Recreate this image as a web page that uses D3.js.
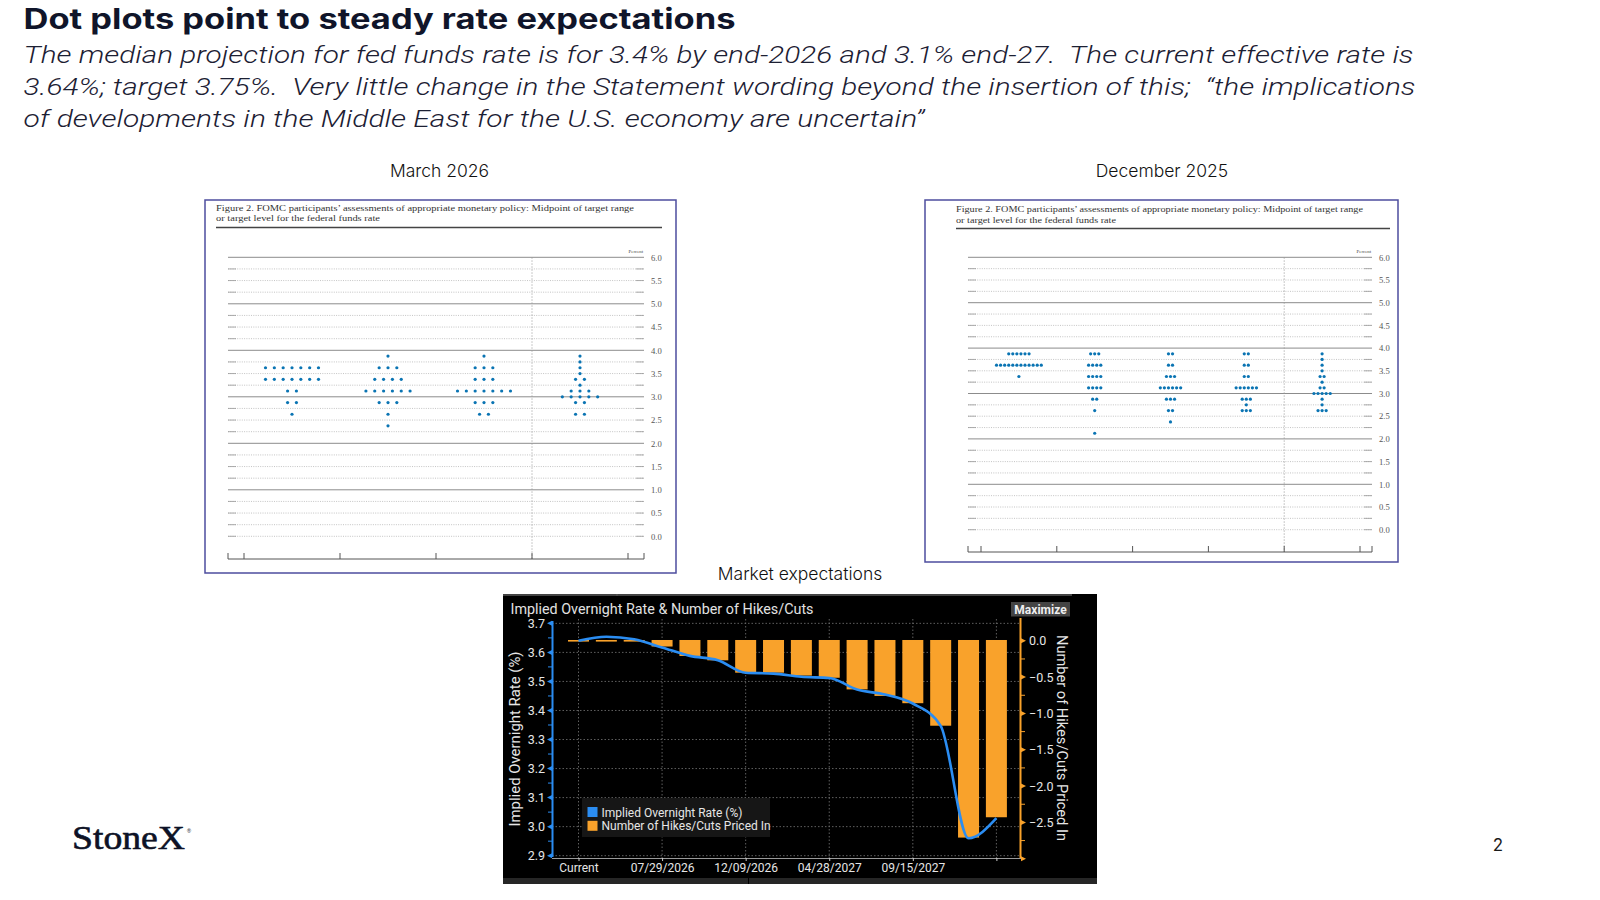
<!DOCTYPE html>
<html>
<head>
<meta charset="utf-8">
<script src="https://cdn.jsdelivr.net/npm/d3@7"></script>
<style>
  body { margin: 0; background: #fff; }
</style>
</head>
<body>
<div id="slide"></div>
<script>
// ---- slide text
var slideTitle = "Dot plots point to steady rate expectations";
var slideSubtitle = [
  "The median projection for fed funds rate is for 3.4% by end-2026 and 3.1% end-27.  The current effective rate is",
  "3.64%; target 3.75%.  Very little change in the Statement wording beyond the insertion of this;  \u201cthe implications",
  "of developments in the Middle East for the U.S. economy are uncertain\u201d"
];
var figTitle = [
  "Figure 2.  FOMC participants\u2019 assessments of appropriate monetary policy: Midpoint of target range",
  "or target level for the federal funds rate"
];

// ---- dot plots: [midpoint, number of participants]
var percentTicks = [0, 0.5, 1, 1.5, 2, 2.5, 3, 3.5, 4, 4.5, 5, 5.5, 6];
var marchColumns = ["2026", "2027", "2028", "Longer run"];
var marchDots = [
  [[3.625, 7], [3.375, 7], [3.125, 2], [2.875, 2], [2.625, 1]],
  [[3.875, 1], [3.625, 3], [3.375, 4], [3.125, 6], [2.875, 3], [2.625, 1], [2.375, 1]],
  [[3.875, 1], [3.625, 3], [3.375, 3], [3.125, 7], [2.875, 3], [2.625, 2]],
  [[3.875, 1], [3.75, 1], [3.625, 1], [3.5, 1], [3.375, 2], [3.25, 1], [3.125, 3], [3.0, 5], [2.875, 2], [2.625, 2]]
];
var decColumns = ["2025", "2026", "2027", "2028", "Longer run"];
var decDots = [
  [[3.875, 6], [3.625, 12], [3.375, 1]],
  [[3.875, 3], [3.625, 4], [3.375, 4], [3.125, 4], [2.875, 2], [2.625, 1], [2.125, 1]],
  [[3.875, 2], [3.625, 2], [3.375, 3], [3.125, 6], [2.875, 3], [2.625, 2], [2.375, 1]],
  [[3.875, 2], [3.625, 2], [3.375, 2], [3.125, 6], [2.875, 3], [2.75, 1], [2.625, 3]],
  [[3.875, 1], [3.75, 1], [3.625, 1], [3.5, 1], [3.375, 2], [3.25, 1], [3.125, 2], [3.0, 5], [2.875, 1], [2.75, 1], [2.625, 3]]
];

// ---- market expectations
var meetingDates = ["Current", "04/29/2026", "06/17/2026", "07/29/2026", "09/16/2026", "10/28/2026",
  "12/09/2026", "01/27/2027", "03/17/2027", "04/28/2027", "06/09/2027", "07/28/2027",
  "09/15/2027", "10/27/2027", "12/08/2027", "01/26/2028"];
var impliedRate = [3.640, 3.654, 3.645, 3.617, 3.588, 3.573, 3.530, 3.527, 3.516, 3.512, 3.472, 3.455, 3.424, 3.347, 2.960, 3.029];
var hikesCuts = [0.00, 0.00, 0.00, -0.09, -0.22, -0.28, -0.45, -0.45, -0.49, -0.52, -0.68, -0.77, -0.87, -1.18, -2.72, -2.44];
var dateTicks = ["Current", "07/29/2026", "12/09/2026", "04/28/2027", "09/15/2027", "01/26/2028"];
var rateTicks = [2.9, 3.0, 3.1, 3.2, 3.3, 3.4, 3.5, 3.6, 3.7];
var hikeTicks = [0, -0.5, -1.0, -1.5, -2.0, -2.5, -3.0];

var svg = d3.select("#slide")
  .append("svg")
  .attr("width", 1600)
  .attr("height", 900);

// ---- header
svg.append("text")
  .attr("x", 23.5).attr("y", 29)
  .attr("font-family", "Inter, sans-serif")
  .attr("font-weight", 700)
  .attr("font-size", 28)
  .attr("fill", "#10152a")
  .attr("textLength", 712).attr("lengthAdjust", "spacingAndGlyphs")
  .text(slideTitle);

var subWidths = [1390, 1392, 901];
slideSubtitle.forEach(function(line, i) {
  svg.append("text")
    .attr("x", 23.5).attr("y", 62.5 + i * 32)
    .attr("font-family", "Roboto, sans-serif")
    .attr("font-weight", 300)
    .attr("font-style", "italic")
    .attr("font-size", 24.5)
    .attr("fill", "#1c2033")
    .style("white-space", "pre")
    .attr("textLength", subWidths[i]).attr("lengthAdjust", "spacingAndGlyphs")
    .text(line);
});

function caption(x, y, txt) {
  svg.append("text")
    .attr("x", x).attr("y", y)
    .attr("text-anchor", "middle")
    .attr("font-family", "Inter, sans-serif")
    .attr("font-weight", 300)
    .attr("font-size", 17.5)
    .attr("fill", "#111")
    .text(txt);
}
caption(439.5, 176.5, "March 2026");
caption(1162, 176.5, "December 2025");
caption(800, 579.5, "Market expectations");

// ---- FOMC dot plot
function drawDotPlot(cfg) {
  var g = svg.append("g");
  g.append("rect")
    .attr("x", cfg.frame[0]).attr("y", cfg.frame[1])
    .attr("width", cfg.frame[2] - cfg.frame[0])
    .attr("height", cfg.frame[3] - cfg.frame[1])
    .attr("fill", "#fff")
    .attr("stroke", "#4d4d9e")
    .attr("stroke-width", 1.5);

  figTitle.forEach(function(line, i) {
    g.append("text")
      .attr("x", cfg.titleX).attr("y", cfg.titleY + i * 10.5)
      .attr("font-family", "Liberation Serif, serif")
      .attr("font-size", 8.8)
      .attr("fill", "#333")
      .attr("textLength", cfg.titleW[i]).attr("lengthAdjust", "spacingAndGlyphs")
      .text(line);
  });
  g.append("line")
    .attr("x1", cfg.titleX).attr("x2", cfg.ruleX)
    .attr("y1", cfg.ruleY).attr("y2", cfg.ruleY)
    .attr("stroke", "#444").attr("stroke-width", 1.6);

  var y = d3.scaleLinear().domain([0, 6]).range([cfg.gridBottom, cfg.gridTop]);
  var x = d3.scaleBand().domain(cfg.columns).range([cfg.colX0, cfg.colX1]);

  var levels = d3.range(0, 25).map(function(i) { return i / 4; });
  levels.forEach(function(v) {
    if (v > 0 && v % 1 === 0) {
      g.append("line")
        .attr("x1", cfg.gridX0).attr("x2", cfg.gridX1)
        .attr("y1", y(v)).attr("y2", y(v))
        .attr("stroke", "#8c8c8c").attr("stroke-width", 1);
    } else {
      g.append("line")
        .attr("x1", cfg.gridX0).attr("x2", cfg.gridX1)
        .attr("y1", y(v)).attr("y2", y(v))
        .attr("stroke", "#aaa").attr("stroke-width", 0.7)
        .attr("stroke-dasharray", "1,1.3");
      [[cfg.gridX0, cfg.gridX0 + 8], [cfg.gridX1 - 8, cfg.gridX1]].forEach(function(e) {
        g.append("line")
          .attr("x1", e[0]).attr("x2", e[1])
          .attr("y1", y(v)).attr("y2", y(v))
          .attr("stroke", "#999").attr("stroke-width", 0.8);
      });
    }
  });

  g.append("line")
    .attr("x1", cfg.dashX).attr("x2", cfg.dashX)
    .attr("y1", cfg.gridTop).attr("y2", cfg.axisY)
    .attr("stroke", "#999").attr("stroke-width", 0.7)
    .attr("stroke-dasharray", "1.5,1.5");

  var ax = g.append("g")
    .attr("transform", "translate(" + cfg.labelX + ",0)")
    .call(d3.axisRight(y).tickValues(percentTicks).tickSize(0).tickPadding(0).tickFormat(d3.format(".1f")));
  ax.select(".domain").remove();
  ax.selectAll("text")
    .attr("font-family", "Liberation Serif, serif")
    .attr("font-size", 8.6)
    .attr("fill", "#555");

  g.append("text")
    .attr("x", cfg.percentX).attr("y", cfg.gridTop - 4)
    .attr("text-anchor", "end")
    .attr("font-family", "Liberation Serif, serif")
    .attr("font-size", 4.8)
    .attr("fill", "#444")
    .text("Percent");

  // bottom axis with ticks on column boundaries
  g.append("line")
    .attr("x1", cfg.gridX0).attr("x2", cfg.gridX1)
    .attr("y1", cfg.axisY).attr("y2", cfg.axisY)
    .attr("stroke", "#555").attr("stroke-width", 1);
  var tickX = [cfg.gridX0, cfg.gridX1].concat(cfg.columns.map(function(c) { return x(c); }), [cfg.colX1]);
  g.selectAll(".btick")
    .data(tickX)
    .join("line")
    .attr("x1", function(d) { return d; }).attr("x2", function(d) { return d; })
    .attr("y1", cfg.axisY - 6).attr("y2", cfg.axisY)
    .attr("stroke", "#555").attr("stroke-width", 1);

  var flat = [];
  cfg.dots.forEach(function(col, ci) {
    col.forEach(function(row) {
      for (var i = 0; i < row[1]; i++) {
        flat.push({ col: cfg.columns[ci], v: row[0], i: i, n: row[1] });
      }
    });
  });
  g.selectAll("circle.dot")
    .data(flat)
    .join("circle")
    .attr("class", "dot")
    .attr("cx", function(d) { return x(d.col) + x.bandwidth() / 2 + (d.i - (d.n - 1) / 2) * cfg.spacing; })
    .attr("cy", function(d) { return y(d.v); })
    .attr("r", cfg.r)
    .attr("fill", "#0a74b3");
}

drawDotPlot({
  frame: [205, 200, 676, 573],
  titleX: 216, titleY: 210.5, titleW: [418, 164],
  ruleX: 662, ruleY: 227.5,
  gridX0: 228, gridX1: 644, gridTop: 257.3, gridBottom: 536.3,
  colX0: 244, colX1: 628, dashX: 532, axisY: 559,
  labelX: 651, percentX: 643,
  columns: marchColumns, dots: marchDots,
  r: 1.6, spacing: 8.83
});

drawDotPlot({
  frame: [925, 200, 1398, 562],
  titleX: 956, titleY: 212, titleW: [407, 160],
  ruleX: 1390, ruleY: 228.5,
  gridX0: 968, gridX1: 1372, gridTop: 257.3, gridBottom: 529.7,
  colX0: 981, colX1: 1360, dashX: 1284.2, axisY: 552,
  labelX: 1379, percentX: 1371,
  columns: decColumns, dots: decDots,
  r: 1.6, spacing: 4.07
});

// ---- Bloomberg style market chart
var bb = svg.append("g");
var blue = "#2b8df2", orange = "#f9a22b", axisFont = "Roboto, sans-serif";

bb.append("rect").attr("x", 503).attr("y", 594).attr("width", 594).attr("height", 290).attr("fill", "#000");
bb.append("line").attr("x1", 503).attr("x2", 1072).attr("y1", 595).attr("y2", 595).attr("stroke", "#5a5a5a").attr("stroke-width", 1.5);
bb.append("line").attr("x1", 617).attr("x2", 617).attr("y1", 594).attr("y2", 596).attr("stroke", "#5a5a5a");
bb.append("rect").attr("x", 503).attr("y", 878).attr("width", 594).attr("height", 6).attr("fill", "#262626");
bb.append("line").attr("x1", 748.5).attr("x2", 748.5).attr("y1", 878).attr("y2", 884).attr("stroke", "#000");

bb.append("text")
  .attr("x", 510.5).attr("y", 614)
  .attr("font-family", axisFont).attr("font-size", 14.5).attr("fill", "#e2e2e2")
  .attr("textLength", 303).attr("lengthAdjust", "spacingAndGlyphs")
  .text("Implied Overnight Rate & Number of Hikes/Cuts");

bb.append("rect").attr("x", 1011).attr("y", 602).attr("width", 59).attr("height", 14.5).attr("fill", "#444");
bb.append("text")
  .attr("x", 1040.5).attr("y", 613.5).attr("text-anchor", "middle")
  .attr("font-family", axisFont).attr("font-weight", 700).attr("font-size", 12).attr("fill", "#eee")
  .text("Maximize");

var px0 = 552, px1 = 1021, py0 = 619, py1 = 858;
var x = d3.scalePoint().domain(meetingDates).range([578.5, 996.4]);
var yL = d3.scaleLinear().domain([2.892, 3.715]).range([py1, py0]);
var yR = d3.scaleLinear().domain([-2.99, 0.3]).range([py1, py0]);

// grid
bb.selectAll(".hgrid")
  .data(rateTicks)
  .join("line")
  .attr("x1", px0).attr("x2", px1)
  .attr("y1", function(d) { return yL(d); }).attr("y2", function(d) { return yL(d); })
  .attr("stroke", "#6a6a6a").attr("stroke-width", 0.9).attr("stroke-dasharray", "1.5,2");
bb.selectAll(".vgrid")
  .data(dateTicks)
  .join("line")
  .attr("x1", function(d) { return x(d); }).attr("x2", function(d) { return x(d); })
  .attr("y1", py0).attr("y2", py1)
  .attr("stroke", "#6a6a6a").attr("stroke-width", 0.9).attr("stroke-dasharray", "1.5,2");

// bars
var barW = 21;
bb.selectAll(".bar")
  .data(meetingDates)
  .join("rect")
  .attr("x", function(d) { return x(d) - barW / 2; })
  .attr("y", yR(0) - 0.8)
  .attr("width", barW)
  .attr("height", function(d, i) { return Math.max(1.6, yR(hikesCuts[i]) - yR(0)); })
  .attr("fill", orange);

// line
var line = d3.line()
  .curve(d3.curveMonotoneX)
  .x(function(d, i) { return x(meetingDates[i]); })
  .y(function(d) { return yL(d); });
bb.append("path")
  .datum(impliedRate)
  .attr("d", line)
  .attr("fill", "none")
  .attr("stroke", blue)
  .attr("stroke-width", 2.6);

// bottom axis
var bx = bb.append("g")
  .attr("transform", "translate(0," + py1 + ")")
  .call(d3.axisBottom(x).tickValues(dateTicks).tickSize(3).tickPadding(2)
    .tickFormat(function(d) { return d === "01/26/2028" ? "" : d; }));
bx.select(".domain").attr("d", "M" + px0 + ",0.5H" + px1).attr("stroke", "#9a9a9a");
bx.selectAll("line").attr("stroke", "#ccc");
bx.selectAll("text").attr("font-family", axisFont).attr("font-size", 12).attr("fill", "#e6e6e6");

// left axis
var lx = bb.append("g")
  .attr("transform", "translate(" + px0 + ",0)")
  .call(d3.axisLeft(yL).tickValues(rateTicks).tickSize(0).tickPadding(7).tickFormat(d3.format(".1f")));
lx.select(".domain").attr("d", "M0.5," + (py0 + 2) + "V" + (py1 - 1)).attr("stroke", blue).attr("stroke-width", 2);
lx.selectAll("text").attr("font-family", axisFont).attr("font-size", 12.5).attr("fill", "#e6e6e6");
lx.selectAll(".tri")
  .data(rateTicks)
  .join("path")
  .attr("d", function(d) { var yy = yL(d); return "M0," + (yy - 2.5) + "L-5," + yy + "L0," + (yy + 2.5) + "Z"; })
  .attr("fill", blue);
lx.selectAll(".minor")
  .data(rateTicks.slice(0, -1))
  .join("line")
  .attr("x1", -4).attr("x2", 0)
  .attr("y1", function(d) { return yL(d + 0.05); }).attr("y2", function(d) { return yL(d + 0.05); })
  .attr("stroke", blue).attr("stroke-width", 1);

// right axis
var rx = bb.append("g")
  .attr("transform", "translate(" + px1 + ",0)")
  .call(d3.axisRight(yR).tickValues(hikeTicks.slice(0, -1)).tickSize(0).tickPadding(8).tickFormat(d3.format(".1f")));
rx.select(".domain").attr("d", "M-0.5," + (py0 - 1) + "V" + py1).attr("stroke", orange).attr("stroke-width", 2);
rx.selectAll("text").attr("font-family", axisFont).attr("font-size", 12.5).attr("fill", "#e6e6e6");
rx.selectAll(".tri")
  .data(hikeTicks)
  .join("path")
  .attr("d", function(d) { var yy = yR(d); return "M0," + (yy - 2.5) + "L5," + yy + "L0," + (yy + 2.5) + "Z"; })
  .attr("fill", orange);
rx.selectAll(".minor")
  .data(hikeTicks.slice(0, -1))
  .join("line")
  .attr("x1", 0).attr("x2", 4)
  .attr("y1", function(d) { return yR(d - 0.25); }).attr("y2", function(d) { return yR(d - 0.25); })
  .attr("stroke", orange).attr("stroke-width", 1);

// axis titles
bb.append("text")
  .attr("transform", "translate(520,739) rotate(-90)")
  .attr("text-anchor", "middle")
  .attr("font-family", axisFont).attr("font-size", 15).attr("fill", "#e6e6e6")
  .attr("textLength", 175).attr("lengthAdjust", "spacingAndGlyphs")
  .text("Implied Overnight Rate (%)");
bb.append("text")
  .attr("transform", "translate(1057,738) rotate(90)")
  .attr("text-anchor", "middle")
  .attr("font-family", axisFont).attr("font-size", 15.5).attr("fill", "#e6e6e6")
  .attr("textLength", 206).attr("lengthAdjust", "spacingAndGlyphs")
  .text("Number of Hikes/Cuts Priced In");

// legend
var legendItems = [["Implied Overnight Rate (%)", blue], ["Number of Hikes/Cuts Priced In", orange]];
bb.append("rect").attr("x", 582).attr("y", 798).attr("width", 188).attr("height", 39).attr("fill", "#161616");
legendItems.forEach(function(it, i) {
  bb.append("rect").attr("x", 587.5).attr("y", 807 + i * 13.8).attr("width", 10).attr("height", 10).attr("fill", it[1]);
  bb.append("text")
    .attr("x", 601.5).attr("y", 816.5 + i * 13.8)
    .attr("font-family", axisFont).attr("font-size", 12).attr("fill", "#e6e6e6")
    .text(it[0]);
});

// ---- footer
svg.append("text")
  .attr("x", 72).attr("y", 849)
  .attr("font-family", "Liberation Serif, serif")
  .attr("font-size", 33)
  .attr("fill", "#0d1226")
  .attr("stroke", "#0d1226").attr("stroke-width", 0.6)
  .attr("textLength", 113).attr("lengthAdjust", "spacingAndGlyphs")
  .text("StoneX");
svg.append("text")
  .attr("x", 187).attr("y", 833)
  .attr("font-family", "Liberation Sans, sans-serif")
  .attr("font-size", 5.5).attr("fill", "#0d1226")
  .text("\u00ae");

svg.append("text")
  .attr("x", 1498).attr("y", 851).attr("text-anchor", "middle")
  .attr("font-family", "Inter, sans-serif").attr("font-size", 17).attr("fill", "#1a1a1a")
  .text("2");
</script>
</body>
</html>
